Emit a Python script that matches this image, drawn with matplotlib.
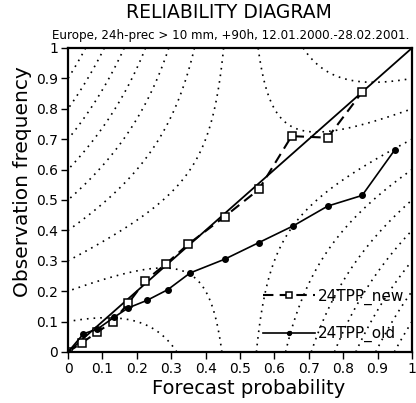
import numpy as np
import matplotlib
matplotlib.use("Agg")
import matplotlib.pyplot as plt

# forecast probability / observed frequency per bin
prob_new = [0.0, 0.04, 0.085, 0.13, 0.175, 0.225, 0.285, 0.35, 0.455, 0.555, 0.65, 0.755, 0.855]
freq_new = [0.0, 0.03, 0.065, 0.10, 0.16, 0.235, 0.29, 0.355, 0.445, 0.535, 0.71, 0.705, 0.855]

prob_old = [0.0, 0.045, 0.085, 0.135, 0.175, 0.23, 0.29, 0.355, 0.455, 0.555, 0.655, 0.755, 0.855, 0.95]
freq_old = [0.0, 0.06, 0.075, 0.115, 0.145, 0.17, 0.205, 0.26, 0.305, 0.36, 0.415, 0.48, 0.515, 0.665]

clim = 0.5
skill_levels = np.arange(-0.65, 0.2, 0.1)
ticks = np.arange(0, 1.01, 0.1)
tick_labels = ["0", "0.1", "0.2", "0.3", "0.4", "0.5", "0.6", "0.7", "0.8", "0.9", "1"]

fig = plt.figure(figsize=(4.16, 4.03), dpi=100)
ax = fig.add_axes([0.1635, 0.1266, 0.8269, 0.7543])

# skill isolines: resolution minus reliability
p, o = np.meshgrid(np.linspace(0, 1, 400), np.linspace(0, 1, 400))
skill = (clim - p) * (clim + p - 2 * o)
ax.contour(p, o, skill, levels=skill_levels, colors="black",
           linewidths=1.2, linestyles=[(0, (1, 3))])

ax.plot([0, 1], [0, 1], color="black", lw=1.3)
ax.plot(prob_new, freq_new, color="black", lw=1.5, dashes=(5, 3),
        marker="s", ms=6, mfc="white", mec="black", mew=1.1, label="24TPP_new")
ax.plot(prob_old, freq_old, color="black", lw=1.2,
        marker="o", ms=4, mfc="black", mec="black", label="24TPP_old")

ax.set_xlim(0, 1)
ax.set_ylim(0, 1)
ax.set_xticks(ticks)
ax.set_yticks(ticks)
ax.set_xticklabels(tick_labels, fontsize=10)
ax.set_yticklabels(tick_labels, fontsize=10)
ax.tick_params(direction="out", length=5, width=1, pad=2)
for s in ax.spines.values():
    s.set_linewidth(1.6)

ax.set_xlabel("Forecast probability", fontsize=14)
ax.set_ylabel("Observation frequency", fontsize=14.5)
ax.xaxis.set_label_coords(0.526, -0.088)
ax.yaxis.set_label_coords(-0.105, 0.56)

ax.legend(loc="lower right", bbox_to_anchor=(1.017, -0.013), frameon=False,
          fontsize=11, handlelength=3.4, labelspacing=1.4, numpoints=1,
          handletextpad=0.2, markerscale=0.7)

fig.text(0.55, 0.968, "RELIABILITY DIAGRAM", ha="center", va="center", fontsize=13.5)
fig.text(0.555, 0.913, "Europe, 24h-prec > 10 mm, +90h, 12.01.2000.-28.02.2001.",
         ha="center", va="center", fontsize=8.6)

fig.savefig("out.png", dpi=100)
